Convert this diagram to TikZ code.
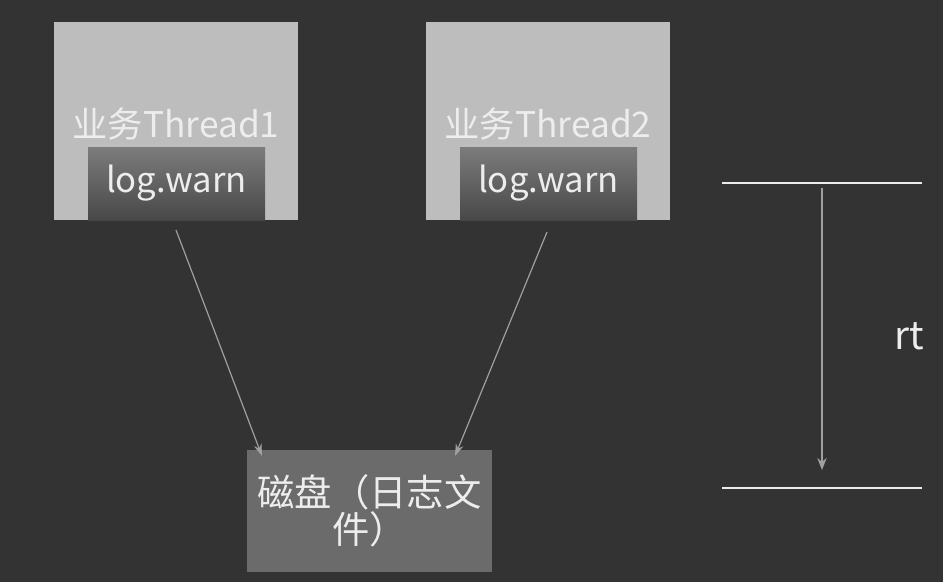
\documentclass[tikz,border=0pt]{standalone}
\usepackage{fontspec}
\setmainfont{Noto Sans CJK SC}
\usetikzlibrary{arrows.meta}
\definecolor{bgc}{HTML}{333333}
\definecolor{boxc}{HTML}{BDBDBD}
\definecolor{innertop}{HTML}{7C7C7C}
\definecolor{innerbot}{HTML}{484848}
\definecolor{diskc}{HTML}{6B6B6B}
\definecolor{txtc}{HTML}{EDEDED}
\definecolor{arrc}{HTML}{A0A0A0}
\tikzset{
  threadbox/.style={fill=boxc, draw=none, minimum width=244*0.75pt, minimum height=198*0.75pt, inner sep=0pt},
  logbox/.style={top color=innertop, bottom color=innerbot, draw=none, minimum width=177*0.75pt, minimum height=73*0.75pt, inner sep=0pt, text=txtc, font=\fontsize{26}{30}\selectfont},
  threadlbl/.style={text=txtc, font=\fontsize{26.5}{30}\selectfont, inner sep=0pt},
  diskbox/.style={fill=diskc, draw=none, minimum width=245*0.75pt, minimum height=122*0.75pt, inner sep=0pt, text=txtc, align=center, font=\fontsize{28}{26}\selectfont},
  conn/.style={draw=arrc, line width=0.9pt, -{Stealth[length=9pt,width=6pt]}},
  rtline/.style={draw=white!92!black, line width=2pt},
  rtarrow/.style={draw=arrc, line width=1.4pt, -{Stealth[length=9pt,width=7pt]}},
}
\begin{document}
\begin{tikzpicture}[x=0.75pt,y=-0.75pt]
\fill[bgc] (0,0) rectangle (943,582);
\useasboundingbox (0,0) rectangle (943,582);
% thread 1
\node[threadbox] (t1) at (176,121) {};
\node[logbox] (l1) at (176.5,183.5) {log.warn};
\node[threadlbl] (t1l) at (176,124) {业务Thread1};
% thread 2
\node[threadbox] (t2) at (548,121) {};
\node[logbox] (l2) at (548.5,183.5) {log.warn};
\node[threadlbl] (t2l) at (548,124) {业务Thread2};
% disk
\node[diskbox] (disk) at (369.5,511) {磁盘（日志文\\件）};
% connectors
\coordinate (s1) at (176,230);
\coordinate (e1) at (262,456);
\coordinate (s2) at (547,232);
\coordinate (e2) at (455,456);
\draw[conn] (s1) -- (e1);
\draw[conn] (s2) -- (e2);
% rt
\coordinate (ta) at (722,183);
\coordinate (tb) at (922,183);
\coordinate (ba) at (722,488);
\coordinate (bb) at (922,488);
\draw[rtline] (ta) -- (tb);
\draw[rtline] (ba) -- (bb);
\coordinate (ra) at (822,188);
\coordinate (rb) at (822,470);
\draw[rtarrow] (ra) -- (rb);
\node[text=txtc, font=\fontsize{29}{30}\selectfont, inner sep=0pt] (rt) at (909,336) {rt};
\end{tikzpicture}
\end{document}
